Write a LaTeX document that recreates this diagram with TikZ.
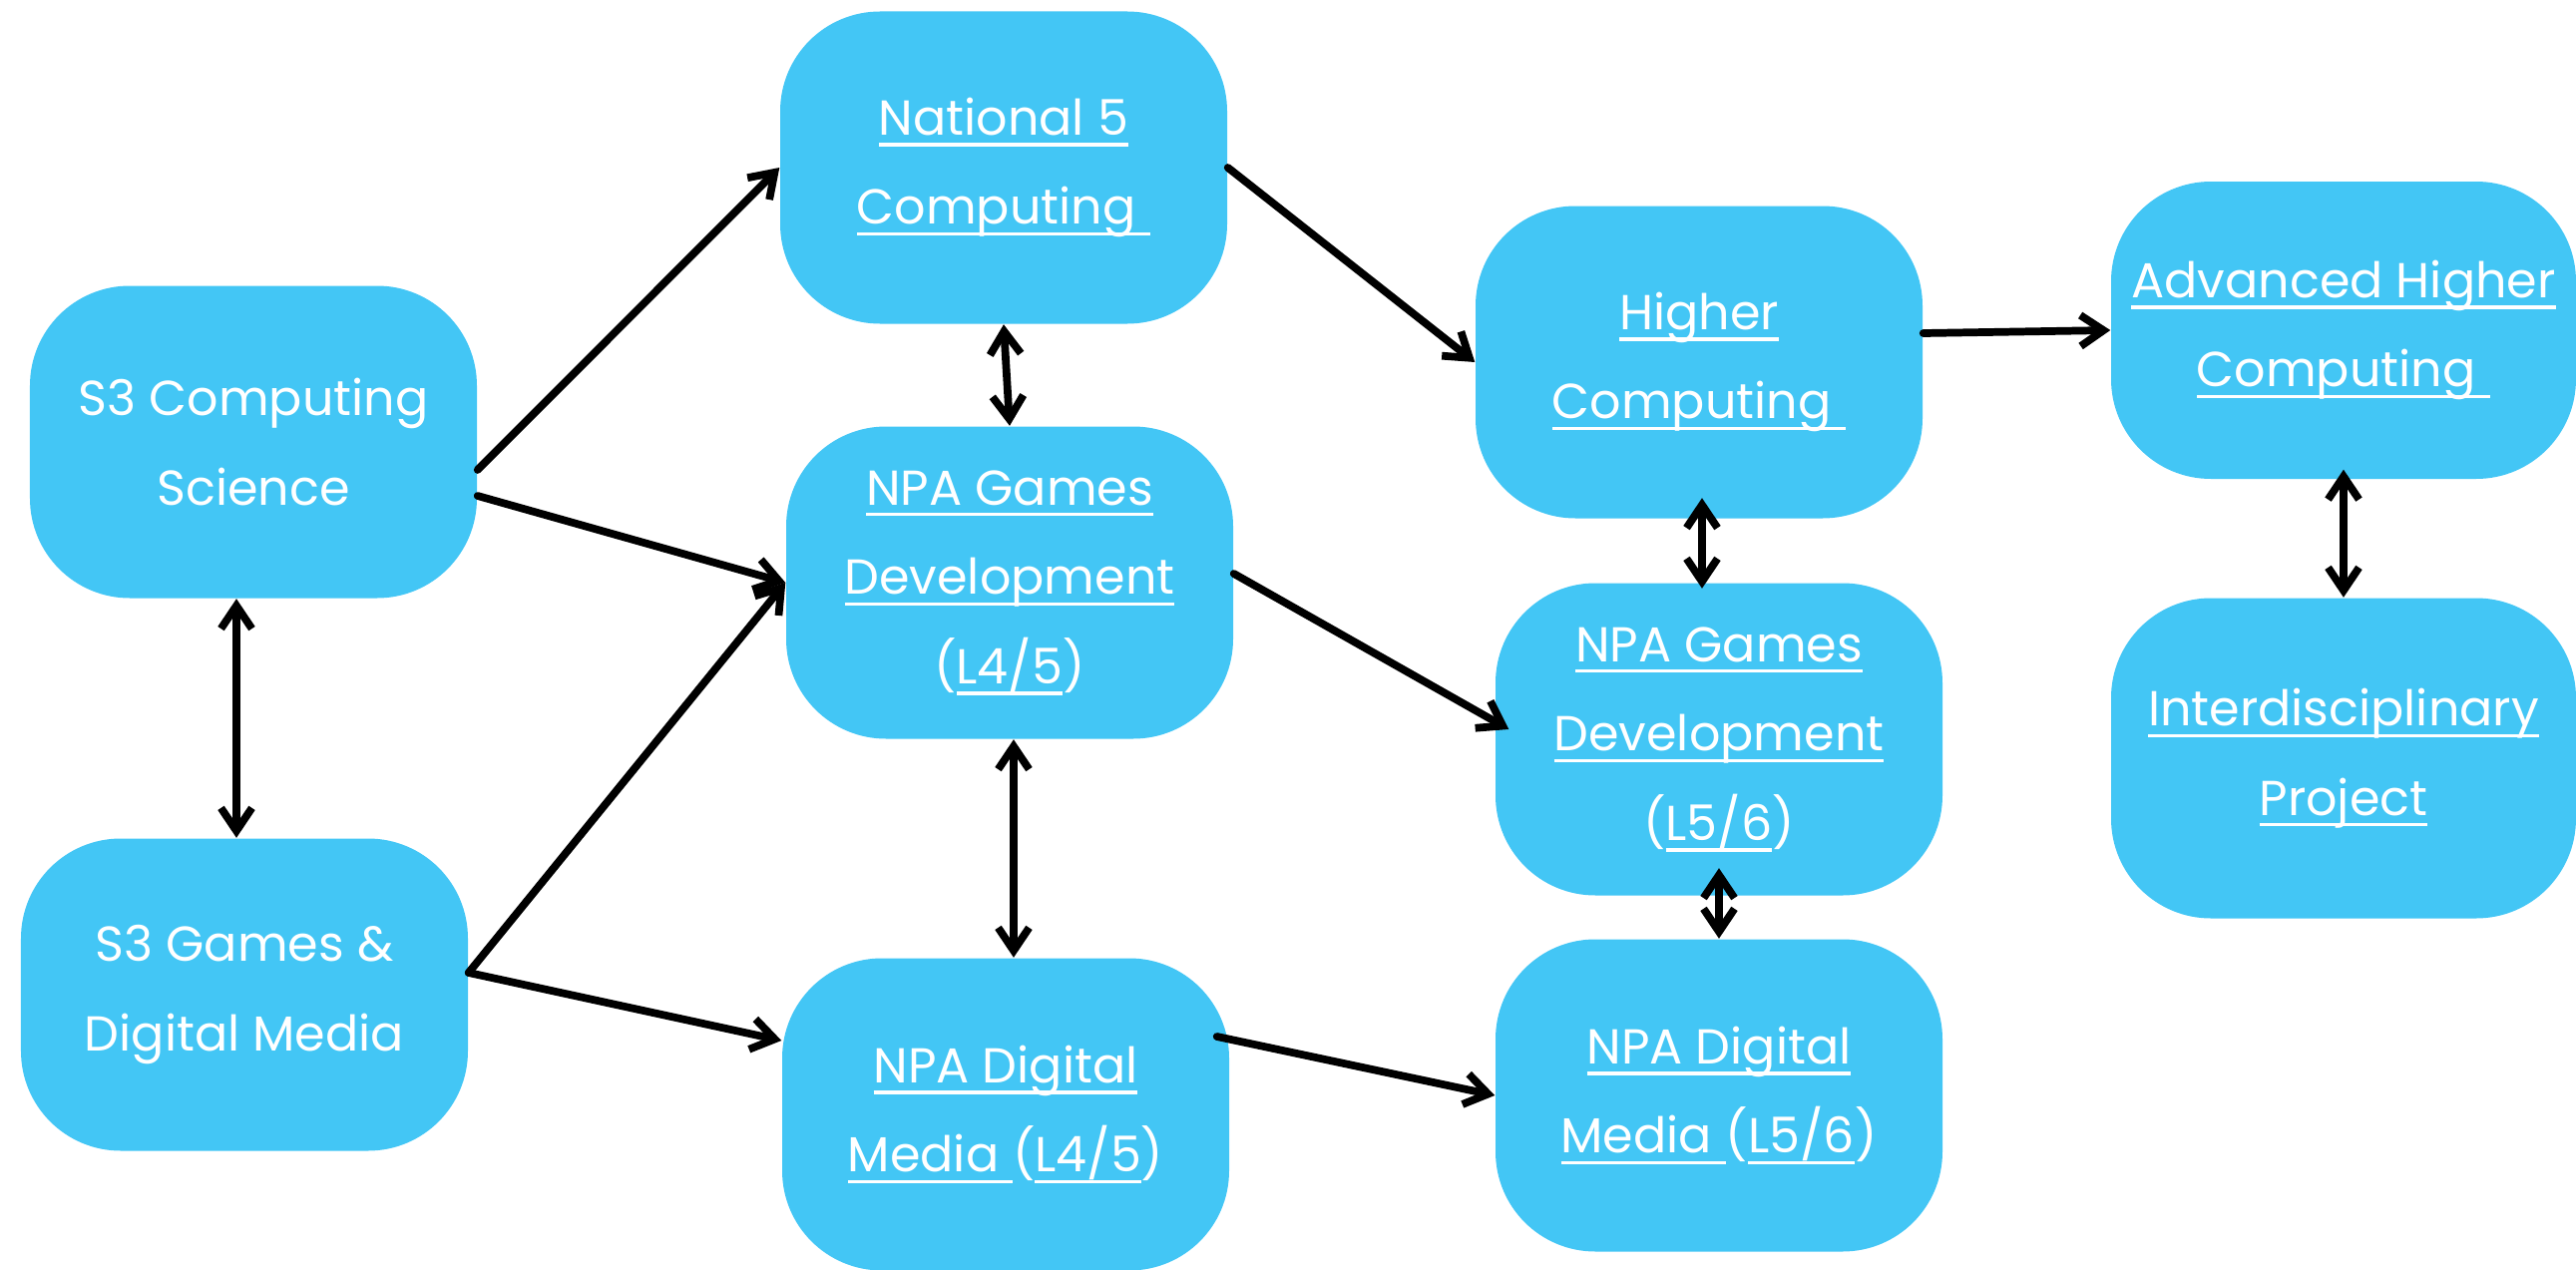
\documentclass[tikz,border=0pt]{standalone}
\usepackage{fontspec}
\setmainfont{Poppins}
\usetikzlibrary{arrows.meta}
\definecolor{boxblue}{RGB}{67,198,245}
\newlength{\undlw}
\newcommand{\undl}[1]{\settowidth{\undlw}{#1}\rlap{\rule[-3.2pt]{\undlw}{0.9pt}}#1}

\begin{document}
\begin{tikzpicture}[
  box/.style={rectangle, rounded corners=1cm, fill=boxblue, text=white,
    minimum width=4.48cm, minimum height=3.13cm, align=center,
    font=\fontsize{14}{25.5}\selectfont},
  link/.style={line width=2.2pt, line cap=round,
    -{Straight Barb[length=2.3mm,width=3.1mm]}},
  both/.style={link, {Straight Barb[length=2.3mm,width=3.1mm]}-{Straight Barb[length=2.3mm,width=3.1mm]}}]
  \useasboundingbox (0,0) rectangle (25.82,-12.73);
  \node[box] (s3cs) at (2.54,-4.43) {S3 Computing\\Science};
  \node[box] (s3gdm) at (2.45,-9.97) {S3 Games \&\\Digital Media};
  \node[box] (nat5) at (10.06,-1.68) {\undl{National 5}\\\undl{Computing\kern0.3em}};
  \node[box] (gd45) at (10.12,-5.84) {\undl{NPA Games}\\\undl{Development}\\(\undl{L4/5})};
  \node[box] (dm45) at (10.08,-11.17) {\undl{NPA Digital}\\\undl{Media\kern0.28em}(\undl{L4/5})};
  \node[box] (higher) at (17.03,-3.63) {\undl{Higher}\\\undl{Computing\kern0.3em}};
  \node[box] (gd56) at (17.23,-7.41) {\undl{NPA Games}\\\undl{Development}\\(\undl{L5/6})};
  \node[box] (dm56) at (17.23,-10.98) {\undl{NPA Digital}\\\undl{Media\kern0.28em}(\undl{L5/6})};
  \node[box, minimum width=4.66cm, minimum height=2.98cm] (ah) at (23.49,-3.31) {\undl{Advanced Higher}\\\undl{Computing\kern0.3em}};
  \node[box, minimum width=4.66cm, minimum height=3.21cm] (idp) at (23.49,-7.60) {\undl{Interdisciplinary}\\\undl{Project}};

  \draw[link] ([yshift=-0.28cm]s3cs.east) -- (nat5.west);
  \draw[link] ([yshift=-0.54cm]s3cs.east) -- (gd45.west);
  \draw[link] ([yshift=0.22cm]s3gdm.east) -- (gd45.west);
  \draw[link] ([yshift=0.22cm]s3gdm.east) -- ([yshift=0.74cm]dm45.west);
  \draw[both] ([xshift=-0.17cm]s3cs.south) -- ([xshift=-0.08cm]s3gdm.north);
  \draw[both] (nat5.south) -- (gd45.north);
  \draw[both] ([xshift=0.04cm]gd45.south) -- ([xshift=0.08cm]dm45.north);
  \draw[link] (nat5.east) -- (higher.west);
  \draw[link] ([yshift=0.09cm]gd45.east) -- ([xshift=0.14cm,yshift=0.10cm]gd56.west);
  \draw[link] ([xshift=-0.13cm,yshift=0.78cm]dm45.east) -- (dm56.west);
  \draw[both] ([xshift=0.03cm,yshift=0.21cm]higher.south) -- ([xshift=-0.17cm,yshift=-0.06cm]gd56.north);
  \draw[both] ([yshift=0.28cm]gd56.south) -- (dm56.north);
  \draw[link] ([yshift=0.29cm]higher.east) -- (ah.west);
  \draw[both] ([yshift=0.10cm]ah.south) -- (idp.north);
\end{tikzpicture}
\end{document}
